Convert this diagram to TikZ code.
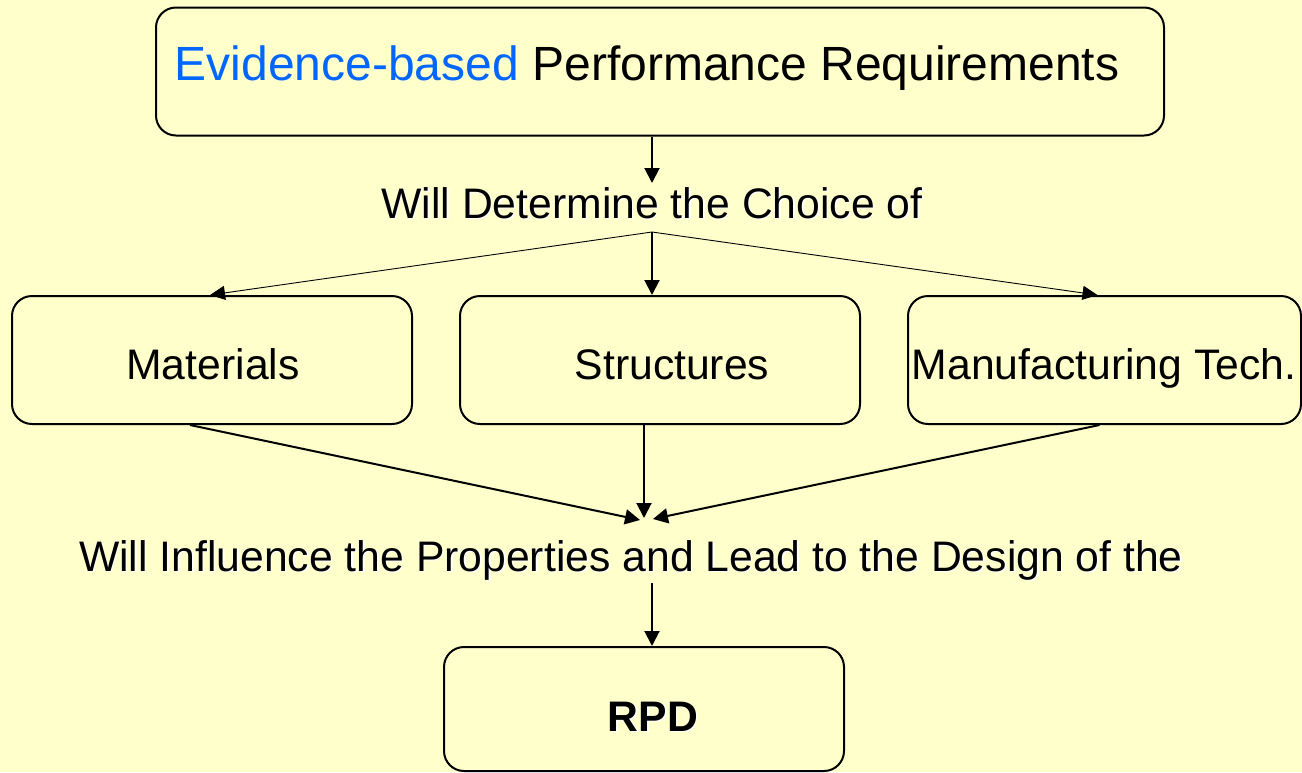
\documentclass[tikz,border=0pt]{standalone}
\usepackage{fontspec}
\setmainfont{Liberation Sans}
\usetikzlibrary{arrows.meta,calc}
\definecolor{bgc}{HTML}{FFFFCC}
\definecolor{evblue}{HTML}{0066FF}
\newcommand{\shad}[1]{\makebox[0pt][l]{\hspace{1.5pt}\raisebox{-1.5pt}{\color{white}#1}}#1}
\begin{document}
\begin{tikzpicture}[x=1pt,y=-1pt,
  box/.style={draw, line width=2pt, rounded corners=20pt, inner sep=0pt},
  lbl/.style={anchor=base, inner sep=0pt, font=\fontsize{42.7}{50}\selectfont},
  arr/.style={line width=2pt, -{Triangle[length=15pt,width=15pt]}},
  thinarr/.style={line width=0.9pt, -{Triangle[length=15pt,width=14pt]}}]
\fill[bgc] (0,0) rectangle (1302,772);
\useasboundingbox (0,0) rectangle (1302,772);
% boxes
\node[box, minimum width=1008pt, minimum height=128pt] (top) at (660,71.5) {};
\node[box, minimum width=400pt, minimum height=128pt] (mat) at (212,360) {};
\node[box, minimum width=400pt, minimum height=128pt] (str) at (660,360) {};
\node[box, minimum width=393pt, minimum height=128pt] (man) at (1104.5,360) {};
\node[box, minimum width=400pt, minimum height=124pt] (rpd) at (644,709) {};
% texts
\node[lbl, font=\fontsize{48}{56}\selectfont] (toptext) at (647,80) {\textcolor{evblue}{Evidence-based} Performance Requirements};
\node[lbl] (det) at (652,218) {\shad{Will Determine the Choice of}};
\node[lbl] (mattext) at (213,379) {Materials};
\node[lbl] (strtext) at (672,379) {Structures};
\node[lbl] (mantext) at (1104,379) {Manufacturing Tech.};
\node[lbl] (inf) at (631,571) {\shad{Will Influence the Properties and Lead to the Design of the}};
\node[lbl] (rpdtext) at (653,731) {\shad{\bfseries RPD}};
% connectors
\coordinate (dtip) at (652,183);
\draw[arr] (top.south -| dtip) -- (dtip);
\coordinate (j) at (652,232);
\draw[thinarr] (j) -- ($(mat.north)+(-2,0)$);
\draw[arr] (j) -- (str.north -| j);
\draw[thinarr] (j) -- ($(man.north)+(-7,0)$);
\coordinate (ml) at (640,520);
\coordinate (mc) at (644,518);
\coordinate (mr) at (653,519);
\draw[arr] ($(mat.south)+(-22,0)$) -- (ml);
\draw[arr] (str.south -| mc) -- (mc);
\draw[arr] ($(man.south)+(-5,0)$) -- (mr);
\coordinate (b0) at (652,583);
\draw[arr] (b0) -- (rpd.north -| b0);
\end{tikzpicture}
\end{document}
